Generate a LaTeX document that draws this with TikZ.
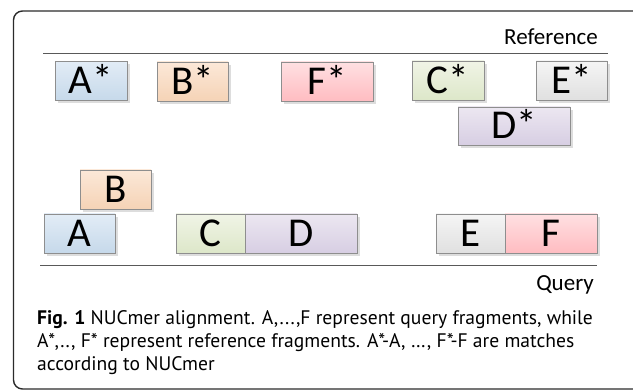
\documentclass[tikz,border=0pt]{standalone}
\usepackage{fontspec}
\setmainfont{Carlito}
\newfontfamily\capfont{PT Sans}
\usetikzlibrary{shadows}
\definecolor{frameC}{HTML}{2B2B2B}
\definecolor{lineC}{HTML}{595959}
\definecolor{bordC}{HTML}{8E8E8E}
\definecolor{blueT}{HTML}{E2ECF6}\definecolor{blueB}{HTML}{C6D9EA}
\definecolor{orT}{HTML}{FCE8D8}\definecolor{orB}{HTML}{F5D3B6}
\definecolor{pkT}{HTML}{FFE0E2}\definecolor{pkB}{HTML}{FFBCC1}
\definecolor{grT}{HTML}{F0F4E6}\definecolor{grB}{HTML}{DDE7C9}
\definecolor{gyT}{HTML}{F5F5F5}\definecolor{gyB}{HTML}{E0E0E0}
\definecolor{puT}{HTML}{ECE7F1}\definecolor{puB}{HTML}{D7CEE3}
\tikzset{
  frag/.style n args={4}{draw=bordC, line width=0.8pt, top color=#1, bottom color=#2,
    minimum width=#3, minimum height=#4, inner sep=0pt,
    font=\fontsize{41}{41}\selectfont, text height=26pt, text depth=0pt,
    drop shadow={shadow xshift=3pt, shadow yshift=-3pt, fill=black!22, opacity=0.6}},
  axislabel/.style={font=\fontsize{23}{23}\selectfont, inner sep=0pt},
  captext/.style={font=\capfont\fontsize{19.6}{19.6}\selectfont, inner sep=0pt},
}
\begin{document}
\begin{tikzpicture}[x=1pt,y=-1pt]
\useasboundingbox (0,0) rectangle (633,390);
\begin{scope}
\clip (0,0) rectangle (633,390);
\draw[frameC, line width=1.4pt, rounded corners=9pt] (13.5,11) rectangle (660,389);
\end{scope}
% axes
\coordinate (r1) at (43,53); \coordinate (r2) at (608,53);
\coordinate (q1) at (40,265); \coordinate (q2) at (597,265);
\draw[lineC, line width=0.9pt] (r1) -- (r2);
\draw[lineC, line width=0.9pt] (q1) -- (q2);
\node[axislabel, anchor=base east] (ref) at (598,45) {Reference};
\node[axislabel, anchor=base east] (qry) at (594,291) {Query};
% reference fragments
\node[frag={blueT}{blueB}{72pt}{39pt}] (As) at (91,81) {A*};
\node[frag={orT}{orB}{71pt}{39pt}] (Bs) at (192.5,81.5) {B*};
\node[frag={pkT}{pkB}{92pt}{39pt}] (Fs) at (327,81.5) {F*};
\node[frag={grT}{grB}{72pt}{39pt}] (Cs) at (448,80.5) {C*};
\node[frag={gyT}{gyB}{71pt}{39pt}] (Es) at (571.5,80.5) {E*};
\node[frag={puT}{puB}{112pt}{38pt}] (Ds) at (514,126) {D*};
% query fragments
\node[frag={orT}{orB}{71pt}{39pt}] (B) at (115.5,189.5) {B};
\node[frag={blueT}{blueB}{71pt}{39pt}] (A) at (79.5,233.5) {A};
\node[frag={grT}{grB}{69pt}{39pt}] (C) at (210.5,233.5) {C};
\node[frag={puT}{puB}{112pt}{39pt}] (D) at (301,233.5) {D};
\node[frag={gyT}{gyB}{69pt}{39pt}] (E) at (470.5,233.5) {E};
\node[frag={pkT}{pkB}{92pt}{39pt}] (F) at (551,233.5) {F};
% caption
\node[captext, anchor=base west] (c1) at (37,325) {\textbf{Fig. 1} NUCmer alignment. A,...,F represent query fragments, while};
\node[captext, anchor=base west] (c2) at (37,348) {A*,.., F* represent reference fragments. A*-A, …, F*-F are matches};
\node[captext, anchor=base west] (c3) at (37,371) {according to NUCmer};
\end{tikzpicture}
\end{document}
